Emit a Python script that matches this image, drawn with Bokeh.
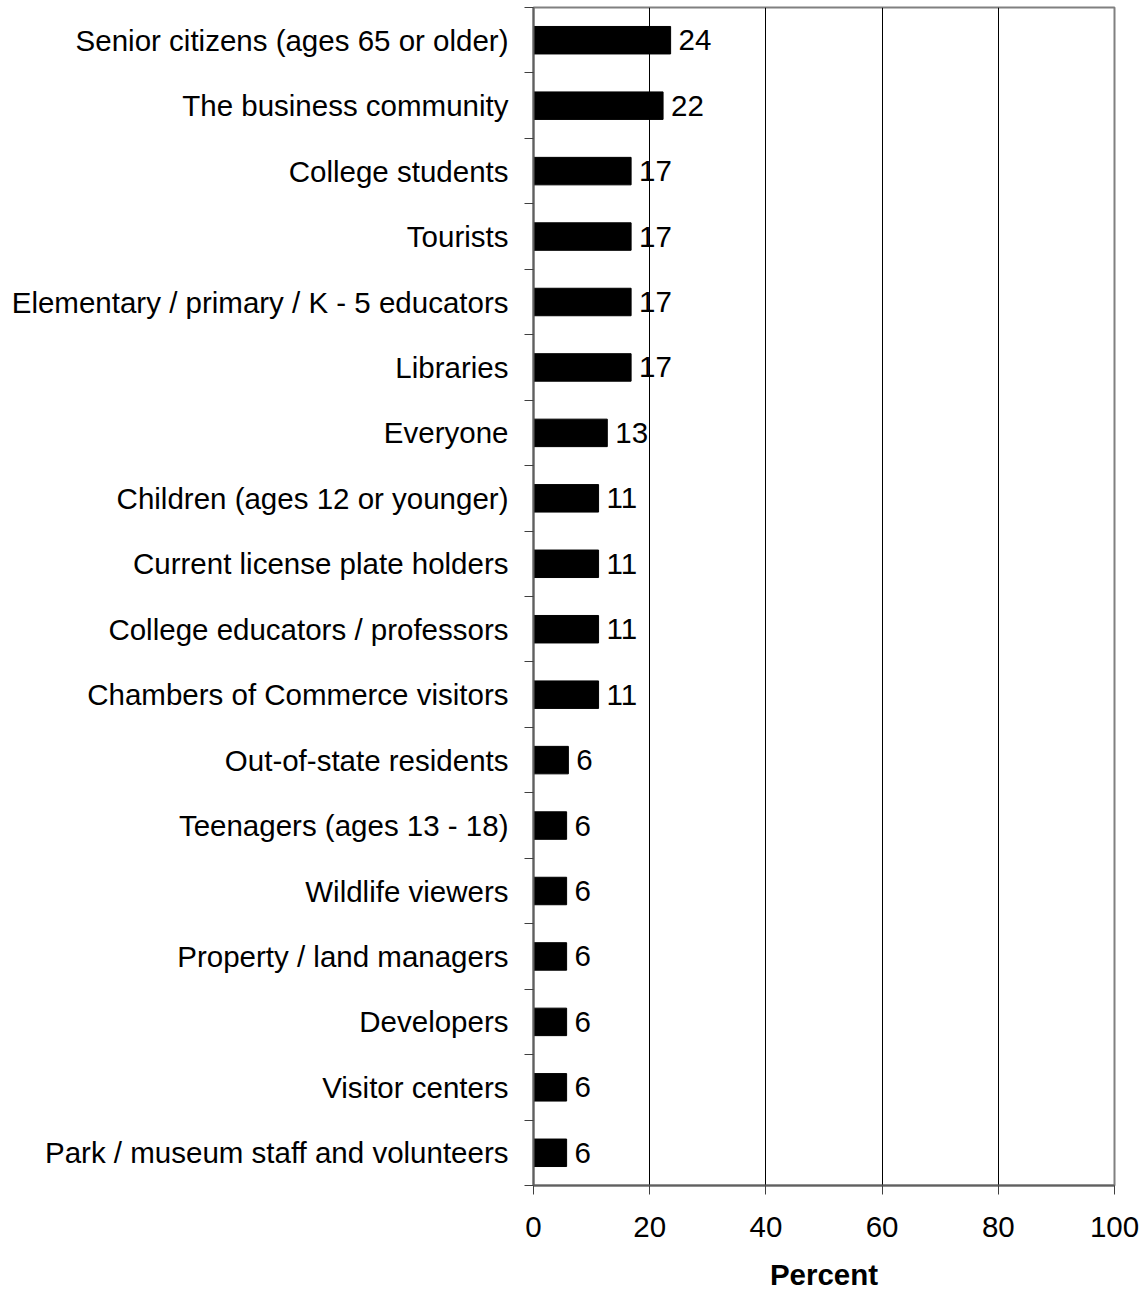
from bokeh.plotting import figure
from bokeh.models import ColumnDataSource, Range1d, FixedTicker
from bokeh.core.properties import value
from bokeh.embed import file_html
from bokeh.resources import INLINE

categories = [
    "Senior citizens (ages 65 or older)",
    "The business community",
    "College students",
    "Tourists",
    "Elementary / primary / K - 5 educators",
    "Libraries",
    "Everyone",
    "Children (ages 12 or younger)",
    "Current license plate holders",
    "College educators / professors",
    "Chambers of Commerce visitors",
    "Out-of-state residents",
    "Teenagers (ages 13 - 18)",
    "Wildlife viewers",
    "Property / land managers",
    "Developers",
    "Visitor centers",
    "Park / museum staff and volunteers",
]
percent = [23.6, 22.3, 16.8, 16.8, 16.8, 16.8, 12.7, 11.2, 11.2, 11.2, 11.2,
           6.0, 5.7, 5.7, 5.7, 5.7, 5.7, 5.7]
x_ticks = [0, 20, 40, 60, 80, 100]

n = len(categories)
ypos = [i + 0.5 for i in range(n)]
labels = [str(int(round(v))) for v in percent]

src = ColumnDataSource(dict(y=ypos, v=percent, lab=labels))

FONT = "Liberation Sans"
FS = "29.5px"

p = figure(width=1140, height=1293, output_backend="svg", toolbar_location=None,
           x_range=Range1d(0, 100), y_range=Range1d(n, 0),
           min_border_left=533, min_border_right=26, min_border_top=7,
           min_border_bottom=108)

p.hbar(y="y", right="v", left=0, height=0.42, source=src,
       fill_color="black", line_color="black")
p.text(x="v", y="y", text="lab", source=src, x_offset=8,
       text_align="left", text_baseline="middle",
       text_font=value(FONT), text_font_size=FS, text_color="black")

# y axis: labels at centers, ticks at boundaries
p.yaxis.ticker = FixedTicker(ticks=ypos, minor_ticks=list(range(n + 1)))
p.yaxis.major_label_overrides = {y: c for y, c in zip(ypos, categories)}
p.yaxis.major_tick_out = 0
p.yaxis.major_tick_in = 0
p.yaxis.minor_tick_out = 9
p.yaxis.minor_tick_in = 0
p.yaxis.minor_tick_line_color = "#404040"
p.yaxis.axis_line_color = "#606060"
p.yaxis.axis_line_width = 2
p.yaxis.major_label_text_font = FONT
p.yaxis.major_label_text_font_size = FS
p.yaxis.major_label_text_color = "black"
p.yaxis.major_label_standoff = 16

p.xaxis.ticker = FixedTicker(ticks=x_ticks, minor_ticks=[])
p.xaxis.major_tick_out = 9
p.xaxis.major_tick_in = 0
p.xaxis.major_tick_line_color = "#404040"
p.xaxis.axis_line_color = "#606060"
p.xaxis.axis_line_width = 2
p.xaxis.major_label_text_font = FONT
p.xaxis.major_label_text_font_size = FS
p.xaxis.major_label_text_color = "black"
p.xaxis.major_label_text_line_height = 1.0
p.xaxis.major_label_standoff = 22
p.xaxis.axis_label = "Percent"
p.xaxis.axis_label_text_font = FONT
p.xaxis.axis_label_text_font_size = FS
p.xaxis.axis_label_text_font_style = "bold"
p.xaxis.axis_label_text_color = "black"
p.xaxis.axis_label_text_line_height = 1.0
p.xaxis.axis_label_standoff = 18

p.xgrid.ticker = FixedTicker(ticks=x_ticks)
p.xgrid.grid_line_color = "black"
p.xgrid.grid_line_width = 1
p.ygrid.grid_line_color = None

p.outline_line_color = "#808080"
p.outline_line_width = 2

open("out.html", "w").write(file_html(p, INLINE))
